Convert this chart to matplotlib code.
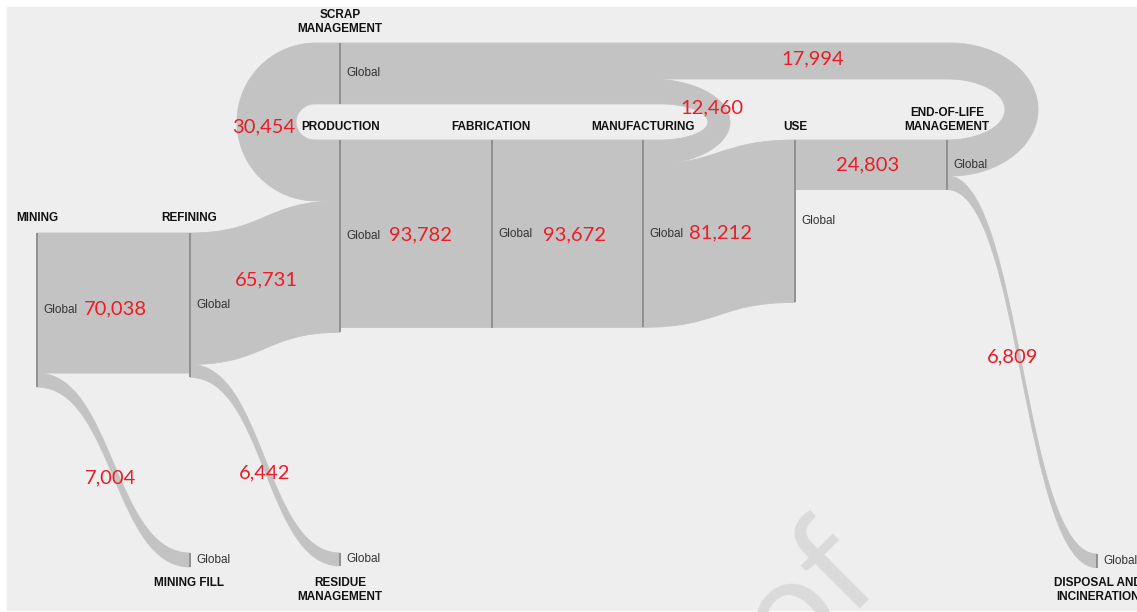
import numpy as np
import matplotlib.pyplot as plt
from matplotlib.patches import PathPatch, Rectangle
from matplotlib.path import Path

# ------------------------------------------------------------
# data (kt, values as labelled on the figure)
# ------------------------------------------------------------
flow_source = ["SCRAP", "MINING", "MINING", "REFINING", "REFINING", "PRODUCTION",
               "FABRICATION", "END-OF-LIFE", "MANUFACTURING", "MANUFACTURING",
               "USE", "END-OF-LIFE"]
flow_target = ["PRODUCTION", "REFINING", "MINING FILL", "PRODUCTION", "RESIDUE",
               "FABRICATION", "MANUFACTURING", "SCRAP", "SCRAP", "USE",
               "END-OF-LIFE", "DISPOSAL"]
flow_value = [30454, 70038, 7004, 65731, 6442, 93782,
              93672, 17994, 12460, 81212, 24803, 6809]

node_names = ["MINING", "REFINING", "PRODUCTION", "FABRICATION", "MANUFACTURING",
              "USE", "END-OF-LIFE", "SCRAP", "MINING FILL", "RESIDUE", "DISPOSAL"]
node_titles = ["MINING", "REFINING", "PRODUCTION", "FABRICATION", "MANUFACTURING",
               "USE", "END-OF-LIFE\nMANAGEMENT", "SCRAP\nMANAGEMENT", "MINING FILL",
               "RESIDUE\nMANAGEMENT", "DISPOSAL AND\nINCINERATION"]
region = "Global"

# ------------------------------------------------------------
# layout (pixel coordinates, y down)
# ------------------------------------------------------------
scale = 0.002  # px per kt
node_x = [37, 190, 340, 492, 643, 795, 947, 340, 190, 340, 1097]
node_top = [233, 233, 140, 140, 140, 140, 140, 43, 553, 553, 554]
title_pos = [(37, 218), (189, 218), (341, 127), (491, 127), (643, 127), (795, 127),
             (947, 120), (340, 22), (189, 583), (340, 590), (1098, 590)]
value_pos = [(264, 127), (115, 309), (111, 478), (266, 280), (265, 473), (420, 235),
             (575, 235), (813, 59), (712, 108), (721, 233), (868, 165), (1013, 357)]
# loop flows: side, outer centre x, outer x-radius, inner centre x, inner x-radius
loops = {0: (-1, 316, 79, 315, 19),
         7: (1, 950, 88, 947, 58),
         8: (1, 650, 80, 660, 48)}

flow_color = "#c3c3c3"
node_color = "#8c8c8c"
red = "#ee1c25"

fig = plt.figure(figsize=(11.37, 6.12), dpi=100)
fig.patch.set_facecolor("white")
ax = fig.add_axes([0, 0, 1, 1])
ax.set_xlim(0, 1137)
ax.set_ylim(612, 0)
ax.axis("off")
ax.add_patch(Rectangle((7, 7), 1130, 603, color="#eeeeee", zorder=0))

# stack flows at nodes
idx = {n: i for i, n in enumerate(node_names)}
out_off = [0.0] * len(node_names)
in_off = [0.0] * len(node_names)
ports = []
for s, t, v in zip(flow_source, flow_target, flow_value):
    w = v * scale
    si, ti = idx[s], idx[t]
    y0 = node_top[si] + out_off[si]
    y1 = node_top[ti] + in_off[ti]
    out_off[si] += w
    in_off[ti] += w
    ports.append((node_x[si], y0, node_x[ti], y1, w))


def ribbon(x0, y0, x1, y1, w):
    xm = (x0 + x1) / 2
    verts = [(x0, y0), (xm, y0), (xm, y1), (x1, y1),
             (x1, y1 + w), (xm, y1 + w), (xm, y0 + w), (x0, y0 + w), (x0, y0)]
    codes = [Path.MOVETO, Path.CURVE4, Path.CURVE4, Path.CURVE4,
             Path.LINETO, Path.CURVE4, Path.CURVE4, Path.CURVE4, Path.CLOSEPOLY]
    return Path(verts, codes)


def loop(xt, yt, xb, yb, w, side, ocx, orx, icx, irx):
    # top band starts at (xt, yt), bottom band at (xb, yb)
    cy = (yt + yb + w) / 2
    Ry = (yb + w - yt) / 2
    ry = Ry - w
    phi = np.linspace(-np.pi / 2, np.pi / 2, 80)
    outer = np.column_stack([ocx + side * orx * np.cos(phi), cy + Ry * np.sin(phi)])
    inner = np.column_stack([icx + side * irx * np.cos(phi[::-1]), cy + ry * np.sin(phi[::-1])])
    pts = np.vstack([[(xt, yt)], outer, [(xb, yb + w), (xb, yb)], inner, [(xt, yt + w)]])
    return Path(pts, closed=False)


for i, (x0, y0, x1, y1, w) in enumerate(ports):
    if i in loops:
        side, ocx, orx, icx, irx = loops[i]
        if side < 0:   # source on top, target below
            p = loop(x0, y0, x1, y1, w, side, ocx, orx, icx, irx)
        else:          # target on top, source below
            p = loop(x1, y1, x0, y0, w, side, ocx, orx, icx, irx)
    else:
        p = ribbon(x0, y0, x1, y1, w)
    ax.add_patch(PathPatch(p, facecolor=flow_color, edgecolor=flow_color, lw=0.6, zorder=1))

# node bars + labels
for i, n in enumerate(node_names):
    h = max(out_off[i], in_off[i])
    x, y = node_x[i], node_top[i]
    ax.plot([x, x], [y, y + h], color=node_color, lw=1.3, zorder=2, solid_capstyle="butt")
    ax.text(x + 6, y + h / 2, region, fontsize=8.5, color="#333333", ha="left", va="center",
            family="Liberation Sans", zorder=3)
    tx, ty = title_pos[i]
    ax.text(tx, ty, node_titles[i], fontsize=8.5, fontweight="bold", color="#111111",
            ha="center", va="center", family="Liberation Sans", linespacing=1.15, zorder=3)

# flow values
for v, (x, y) in zip(flow_value, value_pos):
    ax.text(x, y, f"{v:,}", fontsize=14.5, color=red, ha="center", va="center",
            family="Lato", zorder=4)

# watermark remnant
ax.text(790, 672, "of", fontsize=105, color="#dadada", rotation=45, rotation_mode="anchor",
        ha="left", va="baseline", family="Lato", zorder=0.5)

fig.savefig("out.png", dpi=100, facecolor=fig.get_facecolor())
